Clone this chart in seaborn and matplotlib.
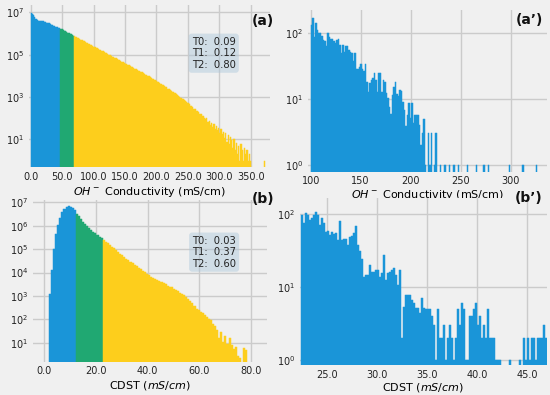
import numpy as np
import pandas as pd
import matplotlib
matplotlib.use("Agg")
import matplotlib.pyplot as plt
import seaborn as sns
from matplotlib.ticker import FixedLocator, NullLocator, FormatStrFormatter

NA = np.nan

# ---------------- data (log10 of bin counts) -------------
# (a) OH- conductivity, bins of 1.875 mS/cm starting at 0
oh_bin_start = 0.0
oh_bin_width = 1.875
oh_t0_log = [6.97, 6.93, 6.86, 6.78, 6.70, 6.63, 6.60, 6.59, 6.59, 6.58,
             6.57, 6.55, 6.53, 6.51, 6.49, 6.47, 6.44, 6.42, 6.39, 6.37,
             6.34, 6.32, 6.29, 6.27, 6.24]
oh_t1_log = [6.22, 6.19, 6.16, 6.13, 6.10, 6.07, 6.04, 6.01, 5.98, 5.95, 5.92, 5.89]
oh_t2_log = [5.86, 5.83, 5.80, 5.77, 5.74, 5.71, 5.68, 5.65, 5.62, 5.59,
             5.56, 5.53, 5.50, 5.47, 5.44, 5.41, 5.38, 5.35, 5.33, 5.30,
             5.27, 5.24, 5.21, 5.18, 5.15, 5.12, 5.09, 5.06, 5.03, 5.00,
             4.97, 4.94, 4.91, 4.88, 4.85, 4.82, 4.79, 4.76, 4.73, 4.70,
             4.67, 4.64, 4.61, 4.58, 4.55, 4.52, 4.49, 4.46, 4.43, 4.40,
             4.37, 4.34, 4.31, 4.28, 4.25, 4.22, 4.19, 4.16, 4.12, 4.09,
             4.06, 4.03, 4.00, 3.97, 3.93, 3.90, 3.87, 3.83, 3.80, 3.77,
             3.73, 3.70, 3.66, 3.63, 3.58, 3.56, 3.51, 3.48, 3.45, 3.40,
             3.37, 3.33, 3.30, 3.24, 3.22, 3.18, 3.12, 3.10, 3.05, 3.02, 2.96,
             2.92, 2.90, 2.84, 2.80, 2.76, 2.70, 2.68, 2.60, 2.58, 2.52,
             2.45, 2.44, 2.36, 2.32, 2.28, 2.20, 2.22, 2.12, 2.10, 2.02,
             1.95, 2.00, 1.82, 1.88, 1.70, 1.78, 1.60, 1.72, 1.50, 1.62,
             1.45, 1.55, 1.30, 1.48, 1.25,
             1.35, 1.05, 1.28, 0.90, 1.20, 0.78, 1.10, 0.95, 0.60, 1.00,
             0.48, 0.85, 0.30, 0.70, 0.0, 0.78, 0.48, 0.0, 0.60, 0.30,
             0.48, 0.0, 0.30, 0.0, NA, NA, NA, NA, NA, NA, NA, NA, NA, NA, NA,
             0.0, NA]
oh_fractions = ["0.09", "0.12", "0.80"]

# (a') OH- conductivity tail above 100 mS/cm, bins of 1.5
oh_tail_start = 100.0
oh_tail_width = 1.5
oh_tail_log = [2.12, 2.24, 1.95, 2.16, 2.05, 2.01, 2.00, 1.96, 1.90, 1.89,
               1.80, 2.00, 1.95, 1.92, 1.91, 1.89, 1.85, 1.90, 1.92, 1.82,
               1.70, 1.82, 1.72, 1.80, 1.80, 1.75, 1.71, 1.70, 1.58, 1.70,
               1.45, 1.45, 1.49, 1.54, 1.45, 1.42, 1.54, 1.26, 1.11, 1.24,
               1.29, 1.32, 1.40, 1.29, 1.11, 1.40, 1.40, 1.11, 1.29, 1.26,
               1.09, 1.01, 0.88, 0.78, 1.06, 1.18, 1.26, 1.08, 1.04, 1.14,
               1.13, 0.96, 0.83, 0.59, 0.76, 0.94, 0.71, 0.94, 0.64, 0.76,
               0.76, 0.76, 0.61, 0.30, 0.48, 0.70, 0.0, NA, 0.48, 0.0,
               0.48, NA, 0.0, 0.48, NA, NA, 0.0, NA, NA, 0.0,
               NA, NA, 0.0, NA, NA, 0.0, NA, NA, 0.0, NA,
               NA, NA, NA, NA, 0.0, NA, NA, NA, NA, NA,
               0.0, NA, NA, NA, NA, 0.0, NA, NA, 0.0, NA,
               NA, NA, NA, NA, NA, NA, NA, NA, NA, NA,
               NA, NA, 0.0, NA, NA, NA, NA, NA, NA, NA,
               NA, 0.0, NA, NA, NA, NA, NA, NA, NA, NA,
               0.0]

# (b) CDST, bins of 0.8 mS/cm starting at 1.8
cdst_bin_start = 1.8
cdst_bin_width = 0.8
cdst_t0_log = [3.10, 4.10, 5.00, 5.65, 6.05, 6.35, 6.57, 6.71, 6.79, 6.83,
               6.82, 6.75, 6.66]
cdst_t1_log = [6.52, 6.40, 6.29, 6.18, 6.08, 5.99, 5.90, 5.82, 5.74, 5.67,
               5.60, 5.53, 5.46]
cdst_t2_log = [5.39, 5.32, 5.25, 5.17, 5.10, 5.03, 4.95, 4.88, 4.81, 4.73,
               4.66, 4.59, 4.52, 4.45, 4.39, 4.32, 4.26, 4.20, 4.14, 4.07,
               4.01, 3.95, 3.89, 3.83, 3.78, 3.73, 3.68, 3.63, 3.59, 3.54,
               3.49, 3.44, 3.40, 3.36, 3.30, 3.26, 3.20, 3.14, 3.09, 3.02,
               2.95, 2.85, 2.80, 2.70, 2.55, 2.42, 2.38, 2.32, 2.26, 2.18,
               2.10, 2.02, 1.95, 1.82, 1.70, 1.55, 1.20, 1.45, 1.05, 1.30,
               0.95, 1.20, 0.90, 0.75, 0.80, 0.45, 0.35, NA, 0.78, 0.70]
cdst_fractions = ["0.03", "0.37", "0.60"]

# (b') CDST tail above ~22.4 mS/cm, bins of 0.2
cdst_tail_start = 22.35
cdst_tail_width = 0.2
cdst_tail_log = [1.99, 1.88, 2.01, 1.99, 1.92, 1.94, 1.99, 2.03, 1.99, 1.85,
                 1.94, 1.88, 1.76, 1.77, 1.71, 1.76, 1.72, 1.74, 1.64, 1.91,
                 1.64, 1.66, 1.66, 1.58, 1.68, 1.70, 1.74, 1.84, 1.58, 1.50,
                 1.39, 1.14, 1.16, 1.16, 1.30, 1.20, 1.21, 1.23, 1.23, 1.14,
                 1.19, 1.44, 1.10, 1.19, 1.21, 1.23, 1.26, 1.16, 1.03, 1.23,
                 0.30, 0.73, 0.89, 0.89, 0.89, 0.82, 0.78, 0.71, 0.71, 0.64,
                 0.85, 0.71, 0.70, 0.70, 0.70, 0.60, 0.48, 0.0, 0.70, 0.30,
                 0.30, 0.48, 0.0, 0.30, 0.48, 0.30, 0.0, 0.30, 0.70, 0.48,
                 0.78, 0.70, 0.0, 0.0, 0.60, 0.60, 0.70, 0.78, 0.48, 0.60,
                 0.30, 0.48, 0.30, 0.70, 0.30, 0.30, 0.30, 0.0, 0.0, 0.0,
                 NA, NA, NA, NA, 0.0, NA, NA, NA, NA, 0.0,
                 NA, 0.30, 0.0, 0.30, 0.0, 0.30, 0.30, 0.0, 0.30, 0.30,
                 0.30, 0.48, 0.30]

threshold_names = ["T0", "T1", "T2"]
oh_ticks = [0, 50, 100, 150, 200, 250, 300, 350]
oh_tail_ticks = [100, 150, 200, 250, 300]
cdst_ticks = [0, 20, 40, 60, 80]
cdst_tail_ticks = [25, 30, 35, 40, 45]

# ---------------- style ----------------
BG = "#f0f0f0"
GRID = "#cbcbcb"
BLUE = "#1a95d8"
GREEN = "#20a872"
YELLOW = "#fdce1c"

plt.rcParams["font.family"] = ["DejaVu Sans"]
plt.rcParams["mathtext.fontset"] = "dejavusans"

fig = plt.figure(figsize=(5.5, 3.95), dpi=100, facecolor=BG)
W, H = 550.0, 395.0


def add_ax(left, top, right, bottom):
    return fig.add_axes([left / W, 1 - bottom / H, (right - left) / W, (bottom - top) / H])


def draw(ax, start, width, logs, color):
    logs = np.asarray(logs, dtype=float)
    n = len(logs)
    centers = start + width * (np.arange(n) + 0.5)
    edges = [float(start + width * i) for i in range(n + 1)]
    m = ~np.isnan(logs)
    df = pd.DataFrame({"value": centers[m], "count": 10 ** logs[m]})
    sns.histplot(data=df, x="value", weights="count", bins=edges, color=color,
                 alpha=1, linewidth=0.35, edgecolor=color, element="bars", ax=ax)


def style(ax, xlim, ylog, yticks, xticks, xfmt):
    ax.set_yscale("log")
    ax.set_facecolor(BG)
    for s in ax.spines.values():
        s.set_visible(False)
    ax.set_axisbelow(True)
    ax.grid(True, color=GRID, linewidth=1.0)
    ax.set_xlim(*xlim)
    ax.set_ylim(10 ** ylog[0], 10 ** ylog[1])
    ax.yaxis.set_major_locator(FixedLocator(yticks))
    ax.yaxis.set_minor_locator(NullLocator())
    ax.xaxis.set_major_locator(FixedLocator(xticks))
    ax.xaxis.set_minor_locator(NullLocator())
    ax.xaxis.set_major_formatter(FormatStrFormatter(xfmt))
    ax.tick_params(length=0, labelsize=7, pad=3.5, colors="#222222")
    ax.set_ylabel("")


def textbox(ax, x, y, fracs):
    s = "\n".join(f"{n}:  {v}" for n, v in zip(threshold_names, fracs))
    ax.text(x, y, s, transform=ax.transAxes, fontsize=7.2, va="top", ha="left",
            linespacing=1.2, color="#222222",
            bbox=dict(boxstyle="round,pad=0.3", facecolor="#aac6da", edgecolor="none", alpha=0.45))


# (a)
axa = add_ax(29, 5, 270, 167)
draw(axa, oh_bin_start, oh_bin_width, oh_t0_log, BLUE)
draw(axa, oh_bin_start + oh_bin_width * len(oh_t0_log), oh_bin_width, oh_t1_log, GREEN)
draw(axa, oh_bin_start + oh_bin_width * (len(oh_t0_log) + len(oh_t1_log)), oh_bin_width, oh_t2_log, YELLOW)
style(axa, (-2.7, 380.7), (-0.30, 7.34), [1e1, 1e3, 1e5, 1e7], oh_ticks, "%.1f")
axa.set_xlabel(r"$OH^-$ Conductivity (mS/cm)", fontsize=8, labelpad=2)
textbox(axa, 0.675, 0.805, oh_fractions)

# (a')
axa2 = add_ax(308, 10, 547, 171.5)
draw(axa2, oh_tail_start, oh_tail_width, oh_tail_log, BLUE)
style(axa2, (97.3, 336.3), (-0.10, 2.354), [1, 10, 100], oh_tail_ticks, "%d")
axa2.set_xlabel(r"$OH^-$ Conductivity (mS/cm)", fontsize=8, labelpad=1)

# (b)
axb = add_ax(33, 200, 267, 361.5)
draw(axb, cdst_bin_start, cdst_bin_width, cdst_t0_log, BLUE)
draw(axb, cdst_bin_start + cdst_bin_width * len(cdst_t0_log), cdst_bin_width, cdst_t1_log, GREEN)
draw(axb, cdst_bin_start + cdst_bin_width * (len(cdst_t0_log) + len(cdst_t1_log)), cdst_bin_width, cdst_t2_log, YELLOW)
style(axb, (-4.4, 86.3), (0.197, 7.10), [1e1, 1e2, 1e3, 1e4, 1e5, 1e6, 1e7], cdst_ticks, "%.1f")
axb.set_xlabel(r"CDST ($mS/cm$)", fontsize=8, labelpad=2)
textbox(axb, 0.68, 0.78, cdst_fractions)

# (b')
axb2 = add_ax(300, 198, 547, 365)
draw(axb2, cdst_tail_start, cdst_tail_width, cdst_tail_log, BLUE)
style(axb2, (22.3, 46.95), (-0.068, 2.219), [1, 10, 100], cdst_tail_ticks, "%.1f")
axb2.set_xlabel(r"CDST ($mS/cm$)", fontsize=8, labelpad=1)

# panel letters
for (x, y, t) in [(263, 21, "(a)"), (529, 20, "(a\u2019)"), (263, 199, "(b)"), (529, 198, "(b\u2019)")]:
    fig.text(x / W, 1 - y / H, t, fontsize=10, fontweight="bold", ha="center", va="center", color="#111111")

fig.savefig("out.png", dpi=100, facecolor=BG)
